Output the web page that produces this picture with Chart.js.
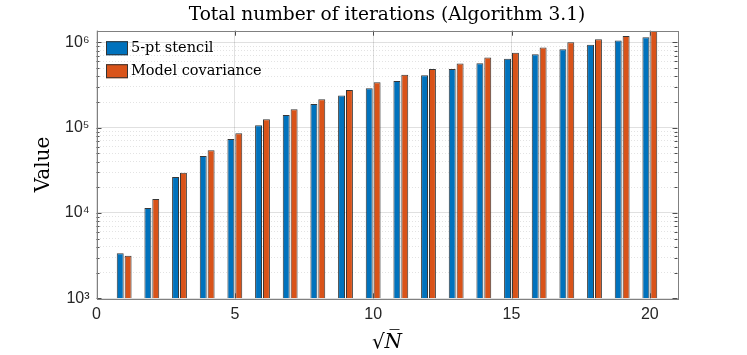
<!DOCTYPE html>
<html>
<head>
<meta charset="utf-8">
<script src="https://cdn.jsdelivr.net/npm/chart.js@4/dist/chart.umd.min.js"></script>
<style>
  html, body { margin: 0; padding: 0; background: #ffffff; }
  #wrap { width: 747px; height: 355px; }
</style>
</head>
<body>
<div id="wrap"><canvas id="c" width="747" height="355"></canvas></div>
<script>
// ---- data ----
const categories = [1, 2, 3, 4, 5, 6, 7, 8, 9, 10, 11, 12, 13, 14, 15, 16, 17, 18, 19, 20];
const stencilValues = [3380, 11450, 26500, 46700, 73800, 106700, 140800, 189000, 239000, 289000,
                       352000, 413000, 486000, 570000, 641000, 728000, 832000, 935000, 1052000, 1150000];
const covarianceValues = [3145, 14620, 29560, 54400, 85900, 125400, 164000, 215000, 276000, 342000,
                          417000, 486000, 566000, 665000, 754000, 873000, 1003000, 1086000, 1191000, 1370000];
const seriesNames = ['5-pt stencil', 'Model covariance'];
const xTickValues = [0, 5, 10, 15, 20];
const yDecades = [3, 4, 5, 6];
const titleText = 'Total number of iterations (Algorithm 3.1)';
const yLabel = 'Value';
const xLabel = '\u221AN\u0305';

const Y_MIN = 1000, Y_MAX = 1370000, X_MIN = 0, X_MAX = 21;
const SUP = {'0':'\u2070','1':'\u00B9','2':'\u00B2','3':'\u00B3','4':'\u2074','5':'\u2075','6':'\u2076','7':'\u2077','8':'\u2078','9':'\u2079'};

const isPow10 = v => Math.abs(Math.log10(v) - Math.round(Math.log10(v))) < 1e-9;

const frameTicks = {
  id: 'frameTicks',
  afterDraw(chart) {
    const {ctx, chartArea: a, scales: {x, y}} = chart;
    ctx.save();
    ctx.strokeStyle = '#4d4d4d';
    ctx.lineWidth = 1;
    ctx.beginPath();
    y.ticks.forEach(t => {
      const py = Math.round(y.getPixelForValue(t.value)) + 0.5;
      const len = isPow10(t.value) ? 5 : 3;
      ctx.moveTo(a.left, py); ctx.lineTo(a.left + len, py);
      ctx.moveTo(a.right, py); ctx.lineTo(a.right - len, py);
    });
    x.ticks.forEach(t => {
      const px = Math.round(x.getPixelForValue(t.value)) + 0.5;
      ctx.moveTo(px, a.bottom); ctx.lineTo(px, a.bottom - 5);
      ctx.moveTo(px, a.top); ctx.lineTo(px, a.top + 5);
    });
    ctx.stroke();
    ctx.strokeStyle = '#808080';
    ctx.strokeRect(Math.round(a.left) + 0.5, Math.round(a.top) + 0.5,
                   Math.round(a.right - a.left), Math.round(a.bottom - a.top));
    // legend (transparent, upper left)
    const bx = a.left + 9.5, by = a.top + 10.5, bw = 22, bh = 14, step = 23;
    chart.data.datasets.forEach((ds, i) => {
      const top = by + i * step;
      ctx.fillStyle = ds.backgroundColor;
      ctx.fillRect(bx, top, bw, bh);
      ctx.strokeStyle = '#333333';
      ctx.strokeRect(bx + 0.5, top + 0.5, bw - 1, bh - 1);
      ctx.fillStyle = '#000000';
      ctx.font = '14.5px "DejaVu Serif"';
      ctx.textBaseline = 'middle';
      ctx.textAlign = 'left';
      ctx.fillText(ds.label, bx + bw + 3, top + bh / 2 + 0.5);
    });
    ctx.restore();
  }
};

const chart = new Chart(document.getElementById('c'), {
  type: 'bar',
  data: {
    datasets: [
      {
        label: seriesNames[0],
        data: categories.map((c, i) => ({x: c, y: stencilValues[i]})),
        backgroundColor: '#0072BD',
        borderColor: 'rgba(20,20,20,0.85)',
        borderWidth: 1,
        barPercentage: 0.88,
        categoryPercentage: 0.57
      },
      {
        label: seriesNames[1],
        data: categories.map((c, i) => ({x: c, y: covarianceValues[i]})),
        backgroundColor: '#D95319',
        borderColor: 'rgba(20,20,20,0.85)',
        borderWidth: 1,
        barPercentage: 0.88,
        categoryPercentage: 0.57
      }
    ]
  },
  options: {
    responsive: false,
    animation: false,
    devicePixelRatio: 1,
    layout: { padding: { left: 0, right: 69.5, top: 0, bottom: 0 } },
    plugins: {
      legend: { display: false },
      tooltip: { enabled: false },
      title: {
        display: true,
        fullSize: false,
        text: titleText,
        color: '#000000',
        font: { family: '"DejaVu Serif"', size: 18.6, weight: 'normal' },
        padding: { top: 3.6, bottom: 4.8 }
      }
    },
    scales: {
      x: {
        type: 'linear',
        min: X_MIN,
        max: X_MAX,
        offset: false,
        grid: { offset: false, color: 'rgba(0,0,0,0.12)', drawTicks: false, lineWidth: 1 },
        border: { display: false },
        afterBuildTicks: s => { s.ticks = xTickValues.map(v => ({value: v})); },
        afterFit: s => { s.height = 56.7; },
        ticks: {
          color: '#262626',
          font: { family: '"Liberation Sans"', size: 16 },
          padding: 7,
          maxRotation: 0,
          autoSkip: false,
          callback: v => String(v)
        },
        title: {
          display: true,
          text: xLabel,
          color: '#000000',
          font: { family: '"DejaVu Serif"', size: 20, style: 'italic' },
          padding: { top: 5, bottom: 0 }
        }
      },
      y: {
        type: 'logarithmic',
        min: Y_MIN,
        max: Y_MAX,
        afterBuildTicks: s => {
          const t = [];
          yDecades.forEach(e => {
            for (let m = 1; m <= 9; m++) {
              const v = m * Math.pow(10, e);
              if (v >= Y_MIN && v <= Y_MAX) t.push({value: v, major: m === 1});
            }
          });
          s.ticks = t;
        },
        afterFit: s => { s.width = 96.5; },
        grid: {
          drawTicks: false,
          lineWidth: 1,
          color: c => (c.tick && isPow10(c.tick.value)) ? 'rgba(0,0,0,0.12)' : 'rgba(0,0,0,0.11)'
        },
        border: {
          display: false,
          dash: c => (c.tick && isPow10(c.tick.value)) ? [] : [1, 2]
        },
        ticks: {
          color: '#262626',
          font: { family: '"Liberation Sans"', size: 16 },
          padding: 7,
          autoSkip: false,
          callback: v => {
            if (!isPow10(v)) return '';
            const e = Math.round(Math.log10(v));
            return '10' + String(e).split('').map(d => SUP[d]).join('');
          }
        },
        title: {
          display: true,
          text: yLabel,
          color: '#000000',
          font: { family: '"DejaVu Serif"', size: 20 },
          padding: { top: 32, bottom: 0 }
        }
      }
    }
  },
  plugins: [frameTicks]
});
</script>
</body>
</html>
